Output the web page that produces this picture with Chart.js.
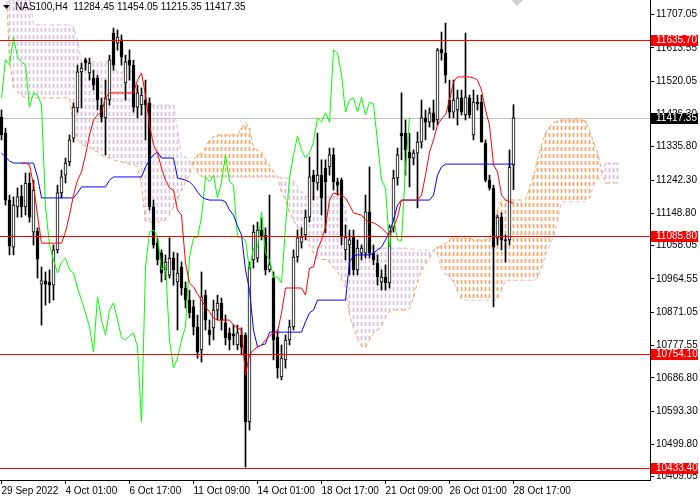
<!DOCTYPE html>
<html lang="en">
<head>
<meta charset="UTF-8">
<title>NAS100,H4</title>
<script src="https://cdn.jsdelivr.net/npm/chart.js"></script>
<style>
  body { margin: 0; background: #fff; }
  canvas { display: block; }
</style>
</head>
<body>
<canvas id="chart" width="700" height="500"></canvas>
<script>
// chart data
const SYMBOL = 'NAS100,H4';
const SHIFT = 26; // chikou lag / kumo lead in bars

const dateLabels = ['29 Sep 2022', '4 Oct 01:00', '6 Oct 17:00', '11 Oct 09:00', '14 Oct 01:00',
                    '18 Oct 17:00', '21 Oct 09:00', '26 Oct 01:00', '28 Oct 17:00'];
const dateTickIdx = [0, 16, 32, 48, 64, 80, 96, 112, 128];

const priceTicks = [11707.05, 11613.55, 11520.05, 11426.30, 11335.80, 11242.30, 11148.80, 11058.05,
                    10964.55, 10871.05, 10777.55, 10686.80, 10593.30, 10499.80, 10409.05];

const levels = [11635.70, 11085.80, 10754.10, 10433.40];
const bid = 11417.35;

const opens = [
  11419,11374,11186,11054,11167,11197,11167,11234,11096,11099,
  10950,10959,10956,10947,11046,11206,11256,11293,11360,11445,
  11546,11580,11543,11529,11529,11453,11417,11467,11655,11627,
  11636,11515,11579,11565,11447,11453,11467,11459,11167,11065,
  11037,10990,10975,11023,10956,10998,10939,10905,10886,10830,
  10765,10919,10821,10827,10877,10897,10841,10813,10810,10779,
  10807,10807,10563,11018,11023,11102,11088,10990,10967,10801,
  10689,10737,10793,10830,11026,11068,11088,11138,11256,11234,
  11256,11276,11279,11313,11237,11242,11046,11060,11082,10990,
  11037,11037,11153,11037,11009,10956,10970,10953,11110,11248,
  11374,11374,11321,11304,11318,11349,11417,11405,11431,11411,
  11610,11599,11467,11433,11439,11473,11425,11473,11369,11461,
  11461,11346,11242,11220,11079,11138,11074,11074,11284.45];
const highs = [
  11439,11388,11200,11195,11220,11228,11262,11262,11242,11108,
  10998,10984,10990,11060,11228,11270,11304,11369,11459,11565,
  11571,11585,11585,11551,11537,11473,11523,11593,11669,11664,
  11650,11593,11608,11579,11509,11501,11523,11473,11186,11079,
  11046,11032,11080,11040,11037,11012,10956,10933,10905,10863,
  10984,10933,10849,10905,10919,10911,10863,10827,10835,10835,
  10827,10813,11012,11116,11124,11136,11108,11200,10984,10821,
  10779,10807,10849,11046,11102,11108,11158,11307,11270,11374,
  11299,11299,11332,11332,11248,11248,11116,11102,11102,11074,
  11060,11200,11279,11060,11032,10990,11004,11116,11270,11332,
  11487,11411,11374,11327,11377,11467,11439,11445,11467,11612,
  11658,11683,11523,11523,11495,11495,11655,11481,11495,11481,
  11481,11355,11256,11228,11144,11150,11088,11327,11454.05];
const lows = [
  11355,11172,11032,11032,11138,11138,11144,11124,11060,10967,
  10835,10891,10897,10905,11037,11192,11234,11282,11349,11433,
  11445,11551,11523,11495,11439,11405,11313,11453,11551,11607,
  11565,11467,11523,11433,11417,11425,11355,11158,11051,11004,
  10956,10962,10967,10947,10821,10919,10883,10855,10807,10742,
  10731,10821,10779,10793,10849,10821,10779,10765,10779,10765,
  10751,10436,10540,10995,11012,11074,10976,10984,10737,10686,
  10681,10714,10779,10821,11012,11051,11074,11124,11186,11214,
  11144,11094,11256,11214,11200,11060,11018,10976,10976,10976,
  11018,11023,11023,11004,10947,10933,10933,10939,11096,11228,
  11299,11256,11223,11285,11164,11332,11355,11391,11383,11397,
  11579,11515,11417,11417,11397,11425,11411,11417,11355,11439,
  11349,11237,11214,10886,11060,11046,11012,11060,11215.35];
const closes = [
  11369,11186,11057,11172,11195,11167,11234,11138,11214,11020,
  10959,10950,10947,11046,11206,11251,11290,11355,11447,11546,
  11557,11571,11571,11509,11467,11419,11473,11580,11565,11644,
  11588,11574,11565,11447,11487,11481,11453,11167,11060,11018,
  10981,11012,11023,10990,10981,10939,10905,10869,10830,10759,
  10914,10849,10807,10877,10897,10849,10799,10793,10804,10813,
  10773,10563,10998,11096,11102,11085,10990,11004,10793,10714,
  10742,10793,10830,11026,11080,11082,11138,11251,11237,11256,
  11192,11237,11313,11237,11228,11082,11082,11074,10990,11051,
  11051,11153,11037,11018,10970,10970,10953,11110,11248,11313,
  11366,11327,11304,11318,11349,11417,11405,11431,11405,11607,
  11599,11537,11433,11467,11473,11433,11475,11425,11461,11456,
  11349,11242,11220,11054,11138,11074,11072,11279,11417.35];

const tenkan = [
  null,null,null,null,null,11290,11290,11285,11228,11144,
  11065,11065,11065,11065,11065,11065,11096,11144,11200,11242,
  11265,11313,11369,11411,11425,11433,11473,11487,11487,11487,
  11487,11487,11487,11487,11523,11543,11481,11397,11341,11318,
  11276,11242,11220,11214,11158,11144,11009,10953,10942,10922,
  10905,10886,10872,10855,10849,10849,10849,10849,10835,10827,
  10821,10695,10751,10765,10773,10779,10793,10804,10813,10815,
  10869,10939,10939,10939,10939,10939,10919,10995,10998,11046,
  11074,11110,11186,11206,11203,11200,11192,11172,11150,11147,
  11144,11130,11124,11122,11116,11108,11096,11088,11110,11138,
  11186,11186,11186,11186,11186,11200,11256,11321,11355,11397,
  11414,11425,11467,11518,11532,11532,11532,11532,11529,11523,
  11495,11439,11397,11285,11265,11200,11186,11181,11178];
const kijun = [
  11318,11307,11296,11290,11290,11290,11290,11290,11290,11251,
  11192,11192,11192,11192,11192,11192,11192,11192,11192,11206,
  11223,11223,11223,11223,11223,11223,11223,11242,11251,11251,
  11251,11251,11251,11251,11251,11251,11279,11299,11313,11321,
  11304,11304,11304,11304,11248,11245,11242,11237,11226,11209,
  11195,11189,11186,11186,11186,11186,11181,11158,11144,11113,
  11088,10990,10933,10821,10773,10779,10782,10815,10815,10815,
  10815,10815,10815,10815,10815,10815,10844,10869,10877,10905,
  10905,10905,10905,10905,10905,10905,10905,11012,11029,11032,
  11032,11032,11032,11037,11046,11054,11074,11096,11130,11172,
  11186,11186,11186,11186,11186,11186,11186,11186,11200,11256,
  11279,11287,11287,11287,11287,11287,11287,11287,11287,11287,
  11287,11287,11287,11287,11287,11287,11287,11287,11287];
const spanA = [
  11860,11832,11579,11504,11490,11481,11473,11473,11473,11473,
  11473,11473,11473,11473,11473,11473,11473,11473,11397,11355,
  11343,11338,11335,11327,11321,11313,11307,11304,11299,11296,
  11293,11290,11287,11285,11279,11228,11127,11124,11124,11124,
  11124,11130,11144,11167,11186,11214,11237,11256,11299,11313,
  11318,11332,11355,11363,11369,11369,11369,11369,11369,11369,
  11388,11403,11388,11332,11327,11321,11299,11282,11265,11251,
  11209,11183,11153,11130,11108,11096,11085,11060,11037,11023,
  11020,11018,11012,10998,10984,10964,10942,10863,10827,10799,
  10776,10770,10793,10810,10821,10832,10858,10874,10877,10877,
  10877,10877,10883,10911,10956,10987,11006,11023,11043,11054,
  11057,11065,11074,11082,11082,11082,11082,11079,11074,11074,
  11074,11074,11079,11116,11158,11186,11186,11186,11186,11186,
  11186,11186,11220,11256,11299,11341,11374,11391,11403,11408,
  11411,11411,11411,11411,11411,11411,11408,11383,11349,11321,
  11270,11234,11234,11234,11234];
const spanB = [
  11776,11776,11762,11762,11762,11762,11762,11762,11678,11678,
  11678,11678,11678,11678,11678,11678,11678,11678,11672,11636,
  11574,11574,11574,11574,11574,11574,11574,11574,11565,11546,
  11546,11546,11546,11546,11481,11453,11453,11453,11453,11453,
  11453,11453,11453,11453,11383,11307,11307,11299,11276,11262,
  11251,11251,11251,11251,11251,11251,11251,11251,11251,11251,
  11251,11251,11251,11251,11251,11251,11251,11251,11251,11251,
  11248,11248,11245,11242,11223,11209,11197,11195,11195,11195,
  11195,11195,11195,11195,11195,11186,11158,11054,11051,11051,
  11051,11051,11051,11051,11051,11051,11051,11051,11051,11051,
  11051,11051,11048,11048,11046,11046,11046,11046,11046,11032,
  10995,10978,10970,10956,10928,10905,10905,10905,10905,10905,
  10905,10905,10905,10905,10905,10933,10961,10961,10961,10961,
  10961,10961,10961,10961,10967,10995,11032,11060,11082,11130,
  11181,11181,11181,11181,11181,11181,11181,11192,11228,11242,
  11256,11290,11290,11290,11290];

// axis ranges (4 px per bar, 650 px plot)
const X_MIN = -0.375, X_MAX = 162.125;
const Y_MIN = 10399.7, Y_MAX = 11748;

const SANDY = '#f4a460', THISTLE = '#d8bfd8';
const FONT = { family: 'Liberation Sans', size: 10 };

const canvas = document.getElementById('chart');
const mainCtx = canvas.getContext('2d');

// dotted histogram look of the kumo: one 1px column per bar, dashed vertically
function dashPattern(color) {
  const tile = document.createElement('canvas');
  tile.width = 1; tile.height = 7;
  const g = tile.getContext('2d');
  g.fillStyle = color;
  g.fillRect(0, 0, 1, 4);
  return mainCtx.createPattern(tile, 'repeat');
}
const sandyPat = dashPattern(SANDY);
const thistlePat = dashPattern(THISTLE);

const series = arr => arr.map((v, i) => ({ x: i, y: v }));
const line = (data, color, order, extra) => Object.assign({
  type: 'line', data, borderColor: color, borderWidth: 1, pointRadius: 0,
  tension: 0, fill: false, order
}, extra || {});

const last = opens.length - 1;

// keep horizontal level lines on whole pixels
const crispLevels = {
  id: 'crispLevels',
  afterDatasetsUpdate(chart) {
    chart.data.datasets.forEach((ds, i) => {
      if (!ds.isLevel) return;
      chart.getDatasetMeta(i).data.forEach(p => { p.y = Math.round(p.y) + 0.5; });
    });
  }
};

const overlay = {
  id: 'overlay',
  afterDraw(chart) {
    const { ctx, chartArea, scales } = chart;
    const y = scales.y;
    ctx.save();
    ctx.font = '10px "Liberation Sans"';
    ctx.textBaseline = 'middle';
    ctx.textAlign = 'left';
    const tag = (v, bg) => {
      const py = Math.round(y.getPixelForValue(v));
      ctx.fillStyle = bg;
      ctx.fillRect(chartArea.right + 1, py - 5, 47, 11);
      ctx.fillStyle = '#fff';
      ctx.fillText(v.toFixed(2), chartArea.right + 6, py + 0.5);
    };
    levels.forEach(v => tag(v, '#ff0000'));
    tag(bid, '#000');

    // header
    ctx.fillStyle = '#000';
    ctx.beginPath();
    ctx.moveTo(3, 5); ctx.lineTo(10, 5); ctx.lineTo(6.5, 9); ctx.closePath();
    ctx.fill();
    const ohlc = [opens[last], highs[last], lows[last], closes[last]].map(v => v.toFixed(2)).join(' ');
    ctx.fillText(SYMBOL + '  ' + ohlc, 15, 7.5);

    ctx.fillStyle = '#cfcfcf';
    ctx.beginPath();
    ctx.moveTo(511, 0); ctx.lineTo(523, 0); ctx.lineTo(517, 6); ctx.closePath();
    ctx.fill();
    ctx.restore();
  }
};

new Chart(canvas, {
  type: 'bar',
  data: {
    datasets: [
      {
        type: 'bar', order: 10, grouped: false, barThickness: 1,
        data: spanA.map((a, i) => ({ x: i, y: [a, spanB[i]] })),
        backgroundColor: spanA.map((a, i) => a >= spanB[i] ? sandyPat : thistlePat),
        borderWidth: 0
      },
      line(series(spanA), SANDY, 9, { borderDash: [4, 3] }),
      line(series(spanB), THISTLE, 8, { borderDash: [4, 3] }),
      line([{ x: X_MIN, y: bid }, { x: X_MAX, y: bid }], '#c0c0c0', 7, { isLevel: true }),
      {
        type: 'bar', order: 6, grouped: false, barThickness: 1,
        data: lows.map((l, i) => ({ x: i, y: [l, highs[i]] })),
        backgroundColor: '#000', borderWidth: 0
      },
      {
        type: 'bar', order: 5, grouped: false, barThickness: 3,
        data: opens.map((o, i) => ({ x: i, y: [o, closes[i]] })),
        backgroundColor: opens.map((o, i) => closes[i] >= o ? '#fff' : '#000'),
        borderColor: '#000', borderWidth: 1, borderSkipped: false
      },
      line(series(closes.slice(SHIFT)), '#00ff00', 4),
      line(series(kijun), '#0000ff', 3),
      line(series(tenkan), '#ff0000', 2),
      ...levels.map(v => line([{ x: X_MIN, y: v }, { x: X_MAX, y: v }], '#ff0000', 1, { isLevel: true }))
    ]
  },
  options: {
    responsive: false,
    animation: false,
    events: [],
    layout: { padding: 0 },
    plugins: { legend: { display: false }, tooltip: { enabled: false } },
    scales: {
      x: {
        type: 'linear', min: X_MIN, max: X_MAX, offset: false,
        afterBuildTicks: s => { s.ticks = dateTickIdx.map(v => ({ value: v })); },
        afterFit: s => { s.height = 20; s.paddingLeft = 0; s.paddingRight = 0; },
        ticks: {
          autoSkip: false, maxRotation: 0, align: 'start', padding: 1, color: '#000', font: FONT,
          callback: v => dateLabels[dateTickIdx.indexOf(v)]
        },
        grid: { drawOnChartArea: false, offset: false, tickLength: 4, color: '#000' },
        border: { color: '#000' }
      },
      y: {
        type: 'linear', position: 'right', min: Y_MIN, max: Y_MAX,
        afterBuildTicks: s => { s.ticks = priceTicks.map(v => ({ value: v })); },
        afterFit: s => { s.width = 50; s.paddingTop = 0; s.paddingBottom = 0; },
        ticks: {
          autoSkip: false, padding: 2, color: '#000', font: FONT,
          callback: v => v.toFixed(2)
        },
        grid: { drawOnChartArea: false, tickLength: 4, color: '#000' },
        border: { color: '#000' }
      }
    }
  },
  plugins: [crispLevels, overlay]
});
</script>
</body>
</html>
